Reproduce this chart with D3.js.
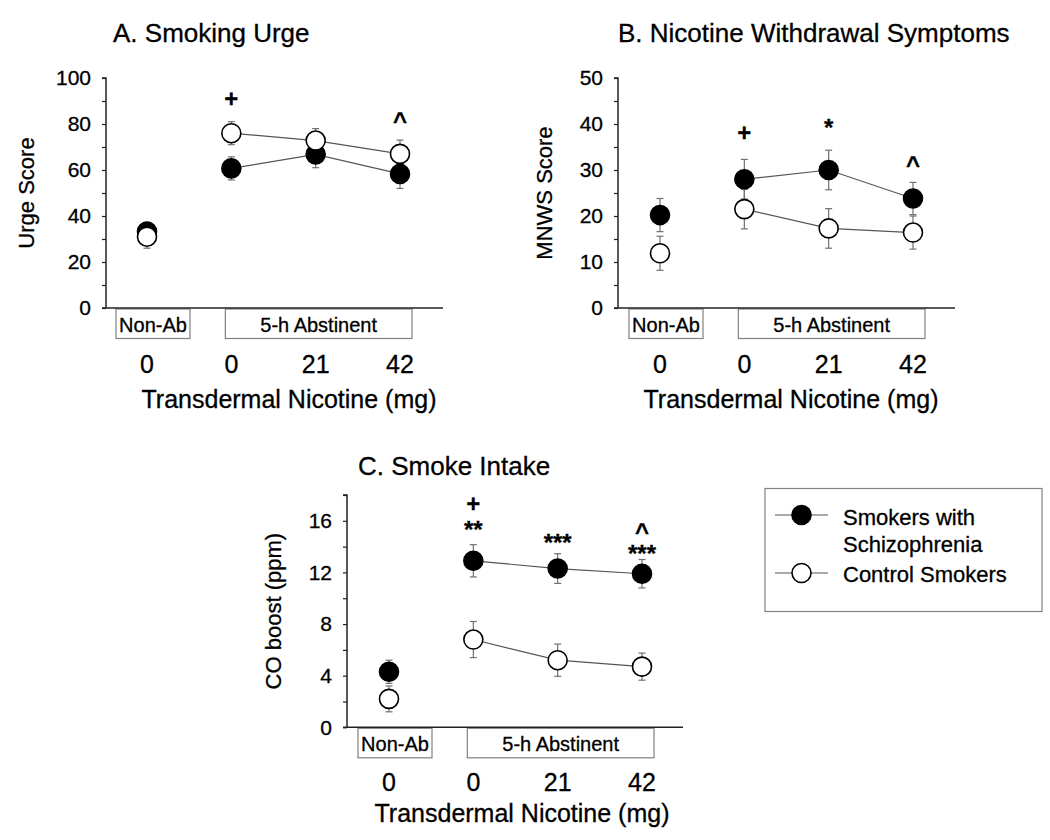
<!DOCTYPE html>
<html><head><meta charset="utf-8">
<script src="https://cdn.jsdelivr.net/npm/d3@7"></script>
<style>
body{margin:0;background:#fff}
svg{display:block}
text{font-family:"Liberation Sans",Arial,Helvetica,sans-serif;fill:#000;stroke:#000;stroke-width:0.3px}
</style>
</head><body>
<svg id="chart" width="1050" height="840"></svg>
<script>
// ---------- DATA ----------
const categories = ["Non-Ab 0", "Abst 0", "Abst 21", "Abst 42"];
const tickLabels = ["0", "0", "21", "42"];
const groupLabels = ["Non-Ab", "5-h Abstinent"];
const seriesNames = ["Smokers with Schizophrenia", "Control Smokers"];
const xTitle = "Transdermal Nicotine (mg)";

// A. Smoking Urge
const urgeSchiz   = [33.2, 60.7, 66.8, 58.3];
const urgeSchizSE = [4.0, 5.0, 5.8, 6.3];
const urgeCtrl    = [31.0, 76.0, 72.8, 67.0];
const urgeCtrlSE  = [5.0, 5.0, 5.2, 6.0];
const urgeMarks   = [{i: 1, v: 90.9, t: "+"}, {i: 3, v: 83.2, t: "^"}];

// B. Nicotine Withdrawal Symptoms
const mnwsSchiz   = [20.2, 28.0, 30.0, 23.8];
const mnwsSchizSE = [3.6, 4.3, 4.3, 3.5];
const mnwsCtrl    = [11.9, 21.5, 17.3, 16.4];
const mnwsCtrlSE  = [3.7, 4.3, 4.3, 3.6];
const mnwsMarks   = [{i: 1, v: 38.1, t: "+"}, {i: 2, v: 40.3, t: "*"}, {i: 3, v: 32.0, t: "^"}];

// C. Smoke Intake
const coSchiz     = [4.3, 12.9, 12.3, 11.9];
const coSchizSE   = [0.9, 1.25, 1.15, 1.1];
const coCtrl      = [2.2, 6.8, 5.2, 4.7];
const coCtrlSE    = [1.0, 1.4, 1.25, 1.05];
const coMarks     = [{i: 1, v: 17.35, t: "+"}, {i: 1, v: 15.75, t: "**"}, {i: 2, v: 14.75, t: "***"},
                     {i: 3, v: 15.5, t: "^"}, {i: 3, v: 13.85, t: "***"}];

// ---------- LAYOUT ----------
const svg = d3.select("#chart");
const AXIS = "#222", GRAY_LINE = "#555", ERR = "#707070", BOX = "#808080";

const panels = [
  {title: "A. Smoking Urge", titleX: 113, titleY: 42, yLabel: "Urge Score", yLabelX: 34,
   left: 106, right: 443, top: 78, bottom: 308, xFirst: 147, xLast: 400,
   yMax: 100, minorStep: 10, labelStep: 20,
   tickY: 372.5, titleXY: 408, titleCX: 289,
   schiz: urgeSchiz, schizSE: urgeSchizSE, ctrl: urgeCtrl, ctrlSE: urgeCtrlSE, marks: urgeMarks},
  {title: "B. Nicotine Withdrawal Symptoms", titleX: 618, titleY: 42, yLabel: "MNWS Score", yLabelX: 552,
   left: 618, right: 955, top: 78, bottom: 308, xFirst: 660, xLast: 913,
   yMax: 50, minorStep: 5, labelStep: 10,
   tickY: 372.5, titleXY: 408, titleCX: 791,
   schiz: mnwsSchiz, schizSE: mnwsSchizSE, ctrl: mnwsCtrl, ctrlSE: mnwsCtrlSE, marks: mnwsMarks},
  {title: "C. Smoke Intake", titleX: 358, titleY: 475, yLabel: "CO boost (ppm)", yLabelX: 281,
   left: 347, right: 683, top: 495, bottom: 727.3, xFirst: 389, xLast: 642,
   yMax: 18, minorStep: 2, labelStep: 4,
   tickY: 790.5, titleXY: 822, titleCX: 522,
   schiz: coSchiz, schizSE: coSchizSE, ctrl: coCtrl, ctrlSE: coCtrlSE, marks: coMarks}
];

const glyphShift = {"+": 0.345, "*": 0.57, "^": 0.52};

function drawPanel(p) {
  const g = svg.append("g");
  const x = d3.scalePoint().domain(categories).range([p.xFirst, p.xLast]);
  const y = d3.scaleLinear().domain([0, p.yMax]).range([p.bottom, p.top]);

  // title
  g.append("text").attr("x", p.titleX).attr("y", p.titleY)
    .style("font-size", "26px").text(p.title);

  // y label
  g.append("text")
    .attr("transform", `translate(${p.yLabelX},${(p.top + p.bottom) / 2}) rotate(-90)`)
    .attr("text-anchor", "middle").style("font-size", "22px").text(p.yLabel);

  // category boxes
  const boxTop = p.bottom + 1, boxH = 29.5;
  const boxes = [
    {x0: x(categories[0]) - 31, x1: x(categories[0]) + 43, label: groupLabels[0]},
    {x0: x(categories[1]) - 6, x1: x(categories[3]) + 12, label: groupLabels[1]}
  ];
  boxes.forEach(b => {
    g.append("rect").attr("x", b.x0).attr("y", boxTop).attr("width", b.x1 - b.x0).attr("height", boxH)
      .attr("fill", "#fff").attr("stroke", BOX).attr("stroke-width", 1.2);
    g.append("text").attr("x", (b.x0 + b.x1) / 2).attr("y", boxTop + 22.5)
      .attr("text-anchor", "middle").style("font-size", "20px").text(b.label);
  });

  // y axis
  const yAxis = d3.axisLeft(y)
    .tickValues(d3.range(0, p.yMax + 0.001, p.minorStep))
    .tickSize(4).tickPadding(11)
    .tickFormat(d => (Math.round(d / p.labelStep * 1000) % 1000 === 0) ? d3.format("d")(d) : "");
  const ya = g.append("g").attr("transform", `translate(${p.left},0)`).call(yAxis);
  ya.select(".domain").attr("stroke", AXIS).attr("stroke-width", 1.5).attr("d", `M-4,${y(p.yMax)}H0V${p.bottom}`);
  ya.selectAll(".tick line").attr("stroke", AXIS).attr("stroke-width", 1.2);
  ya.selectAll(".tick text").style("font-size", "21px").attr("fill", "#000")
    .style("font-family", '"Liberation Sans",Arial,sans-serif');

  // x axis line
  g.append("line").attr("x1", p.left - 4).attr("x2", p.right).attr("y1", p.bottom).attr("y2", p.bottom)
    .attr("stroke", AXIS).attr("stroke-width", 1.5);

  // x tick labels
  g.selectAll(".xt").data(categories).enter().append("text")
    .attr("x", d => x(d)).attr("y", p.tickY).attr("text-anchor", "middle")
    .style("font-size", "25px").text((d, i) => tickLabels[i]);
  g.append("text").attr("x", p.titleCX).attr("y", p.titleXY)
    .attr("text-anchor", "middle").style("font-size", "25px").text(xTitle);

  const series = [
    {m: p.schiz, se: p.schizSE, fill: "#000"},
    {m: p.ctrl, se: p.ctrlSE, fill: "#fff"}
  ];
  const line = d3.line().x((d, i) => x(categories[i + 1])).y(d => y(d));

  // connecting lines (abstinent points only)
  series.forEach(s => {
    g.append("path").attr("d", line(s.m.slice(1))).attr("fill", "none")
      .attr("stroke", GRAY_LINE).attr("stroke-width", 1.2);
  });
  // error bars
  series.forEach(s => {
    s.m.forEach((v, i) => {
      const cx = x(categories[i]);
      const y1 = y(v + s.se[i]), y2 = y(v - s.se[i]);
      g.append("line").attr("x1", cx).attr("x2", cx).attr("y1", y1).attr("y2", y2)
        .attr("stroke", ERR).attr("stroke-width", 1.2);
      [y1, y2].forEach(yy => g.append("line").attr("x1", cx - 3.5).attr("x2", cx + 3.5)
        .attr("y1", yy).attr("y2", yy).attr("stroke", ERR).attr("stroke-width", 1.2));
    });
  });
  // circles
  series.forEach(s => {
    g.selectAll(null).data(s.m).enter().append("circle")
      .attr("cx", (d, i) => x(categories[i])).attr("cy", d => y(d)).attr("r", 9.5)
      .attr("fill", s.fill).attr("stroke", "#000").attr("stroke-width", 1.6);
  });
  // significance marks (stacked marks share one text element)
  const fs = 24;
  const groups = d3.group(p.marks, d => d.i);
  groups.forEach((list, i) => {
    const t = g.append("text").attr("text-anchor", "middle")
      .style("font-size", fs + "px").style("font-weight", "bold");
    list.forEach(mk => {
      t.append("tspan").attr("x", x(categories[i]))
        .attr("y", y(mk.v) + glyphShift[mk.t[0]] * fs).text(mk.t);
    });
  });
}
panels.forEach(drawPanel);

// ---------- LEGEND ----------
const lg = svg.append("g");
lg.append("rect").attr("x", 765).attr("y", 488.5).attr("width", 277).attr("height", 123)
  .attr("fill", "#fff").attr("stroke", BOX).attr("stroke-width", 1.2);
const legendItems = [
  {name: seriesNames[0], fill: "#000", cy: 515, lines: ["Smokers with", "Schizophrenia"], ty: [525, 552]},
  {name: seriesNames[1], fill: "#fff", cy: 573, lines: ["Control Smokers"], ty: [582]}
];
legendItems.forEach(it => {
  lg.append("line").attr("x1", 775).attr("x2", 828).attr("y1", it.cy).attr("y2", it.cy)
    .attr("stroke", GRAY_LINE).attr("stroke-width", 1.2);
  lg.append("circle").attr("cx", 801.5).attr("cy", it.cy).attr("r", 9.5)
    .attr("fill", it.fill).attr("stroke", "#000").attr("stroke-width", 1.6);
  const t = lg.append("text").style("font-size", "22px");
  it.lines.forEach((s, k) => t.append("tspan").attr("x", 843).attr("y", it.ty[k]).text(s));
});
</script>
</body></html>
